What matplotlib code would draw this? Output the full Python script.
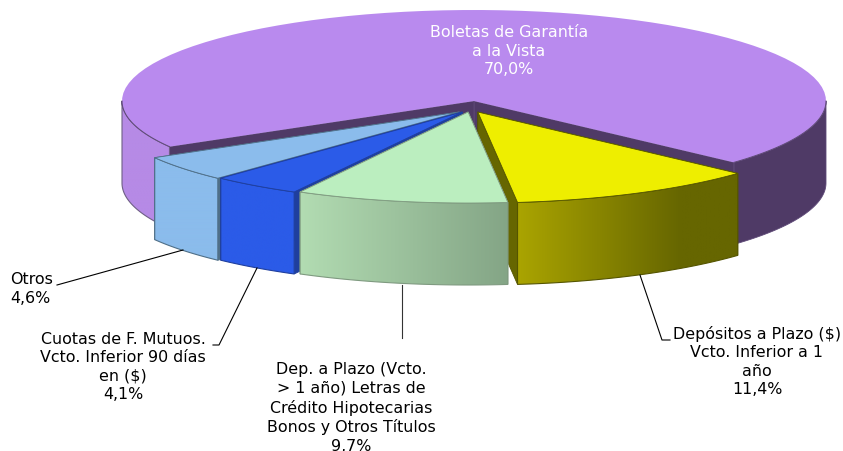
import numpy as np
import matplotlib
matplotlib.use("Agg")
from matplotlib import pyplot as plt
from matplotlib.patches import Polygon
from matplotlib.colors import LinearSegmentedColormap

# clockwise from the big slice
labels = ["Boletas de Garantía\na la Vista\n70,0%",
          "Depósitos a Plazo ($)\nVcto. Inferior a 1\naño\n11,4%",
          "Dep. a Plazo (Vcto.\n> 1 año) Letras de\nCrédito Hipotecarias\nBonos y Otros Títulos\n9,7%",
          "Cuotas de F. Mutuos.\nVcto. Inferior 90 días\nen ($)\n4,1%",
          "Otros\n4,6%"]
values = [70.0, 11.4, 9.7, 4.1, 4.6]

top_colors = ["#b98aee", "#eeee00", "#bbeebf", "#2b5be8", "#8bbcec"]
wall_left = ["#b68ae6", "#aaa400", "#b2dcb2", "#2b5be8", "#8bbcec"]
wall_right = ["#4f3a66", "#666600", "#84a586", "#2b5be8", "#8bbcec"]
cut_colors = ["#4f3a66", "#666600", "#84a586", "#1f3f9e", "#4f6f88"]
edge_colors = ["#5f4a78", "#555500", "#7f9a80", "#1f3f9e", "#4f6f88"]

CX, CY = 474, 101
RX, RY = 352, 91
DEPTH = 82
START = -42.4

fig = plt.figure(figsize=(8.43, 4.51), dpi=100)
ax = fig.add_axes([0, 0, 1, 1])


def arc(cx, cy, t0, t1):
    t = np.radians(np.linspace(t0, t1, 80))
    return np.column_stack([cx + RX * np.cos(t), cy - RY * np.sin(t)])


def wall(cx, cy, t0, t1):
    a = arc(cx, cy, t0, t1)
    return np.vstack([a, a[::-1] + [0, DEPTH]])


def cut(ax_, cx, cy, t, color, edge):
    p = arc(cx, cy, t, t)[0]
    pts = [(cx, cy), p, p + [0, DEPTH], (cx, cy + DEPTH)]
    ax_.add_patch(Polygon(pts, closed=True, fc=color, ec=edge, lw=0.6, zorder=2))


def gradient_wall(ax_, pts, c0, c1, edge, x_end=None):
    # horizontal shading, clipped to the wall shape
    x0, x1 = pts[:, 0].min(), pts[:, 0].max()
    y0, y1 = pts[:, 1].min(), pts[:, 1].max()
    stop = 1.0 if x_end is None else (x_end - x0) / (x1 - x0)
    cmap = LinearSegmentedColormap.from_list("g", [(0, c0), (stop, c1), (1, c1)])
    shape = Polygon(pts, closed=True, fc="none", ec=edge, lw=0.8, zorder=3)
    ax_.add_patch(shape)
    im = ax_.imshow(np.linspace(0, 1, 256)[None, :], extent=[x0, x1, y1, y0],
                    cmap=cmap, aspect="auto", zorder=2.5)
    im.set_clip_path(shape)


angles = np.array(values) / sum(values) * 360
ends = START + np.concatenate([[360], -np.cumsum(angles[1:])])
starts = np.concatenate([[START], ends[1:] + angles[1:]])

# big slice sits behind the rest
t_end = START + angles[0]
ax.add_patch(Polygon(wall(CX, CY, START, 0), closed=True, fc=wall_right[0], ec=edge_colors[0], lw=0.6, zorder=1))
gradient_wall(ax, wall(CX, CY, 180, t_end), wall_left[0], wall_left[0], "#6f5f86")
cut(ax, CX, CY, START, cut_colors[0], edge_colors[0])
cut(ax, CX, CY, t_end, cut_colors[0], edge_colors[0])
big = np.vstack([[[CX, CY]], arc(CX, CY, START, t_end)])
ax.add_patch(Polygon(big, closed=True, fc=top_colors[0], ec="none", zorder=3))
# rim line only where a wall shows under it
for a0, a1 in [(START, 0), (180, t_end)]:
    rim = arc(CX, CY, a0, a1)
    ax.plot(rim[:, 0], rim[:, 1], color=edge_colors[0], lw=0.7, zorder=3.1)

# draw order: back to front, green last
for i, z in [(4, 4), (3, 5), (1, 6), (2, 7)]:
    t0, t1 = starts[i], ends[i]
    mid = np.radians((t0 + t1) / 2)
    cx = 471 + 15 * np.cos(mid)
    cy = 112
    n_before = len(ax.patches)
    cut(ax, cx, cy, t0, cut_colors[i], edge_colors[i])
    cut(ax, cx, cy, t1, cut_colors[i], edge_colors[i])
    pts = wall(cx, cy, t0, t1)
    x_end = 680 if i == 1 else None
    n_img = len(ax.images)
    gradient_wall(ax, pts, wall_left[i], wall_right[i], edge_colors[i], x_end)
    top = np.vstack([[[cx, cy]], arc(cx, cy, t0, t1)])
    ax.add_patch(Polygon(top, closed=True, fc=top_colors[i], ec=edge_colors[i], lw=0.6, zorder=3))
    for p in ax.patches[n_before:]:
        p.set_zorder(z + 0.1 * p.get_zorder())
    for im in ax.images[n_img:]:
        im.set_zorder(z + 0.25)

# leader lines
ax.plot([57, 183], [285, 250], color="black", lw=0.8, zorder=8)
ax.plot([213, 219, 257], [345, 345, 268], color="black", lw=0.8, zorder=8)
ax.plot([402, 402], [285, 338], color="#333333", lw=0.8, zorder=8)
ax.plot([640, 662, 670], [275, 340, 340], color="black", lw=0.8, zorder=8)

FS = 11.4
LS = 1.3
ax.text(509, 51, labels[0], color="white", fontsize=FS, ha="center", va="center", linespacing=LS, zorder=9)
ax.text(757, 361.5, labels[1], color="black", fontsize=FS, ha="center", va="center", linespacing=LS, zorder=9)
ax.text(351, 408, labels[2], color="black", fontsize=FS, ha="center", va="center", linespacing=LS, zorder=9)
ax.text(123, 367, labels[3], color="black", fontsize=FS, ha="center", va="center", linespacing=LS, zorder=9)
ax.text(10, 289, labels[4], color="black", fontsize=FS, ha="left", va="center", linespacing=LS, zorder=9)

ax.set_xlim(0, 843)
ax.set_ylim(451, 0)
ax.axis("off")
fig.savefig("out.png", dpi=100)
